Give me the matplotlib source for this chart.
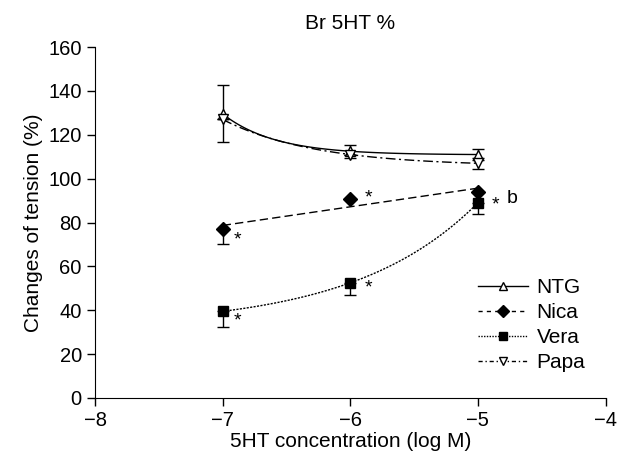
import numpy as np
import matplotlib.pyplot as plt

plt.rcParams['font.family'] = ['Liberation Sans', 'DejaVu Sans']

# data
conc = [-7, -6, -5]
ntg = [129.5, 112.5, 111]
ntg_err = [13, 3, 2.5]
nica = [77, 90.5, 94]
nica_err = [7, 0, 0]
vera = [39.5, 52.5, 89]
vera_err = [7, 5.5, 5]
papa = [127, 111, 107]
papa_err = [0, 0, 2.5]

stars_x = [-6.88, -5.86, -6.88, -5.86, -4.86]
stars_y = [72, 91, 35, 50, 88]

fig = plt.figure(figsize=(6.31, 4.66), dpi=100)
ax = fig.add_axes([0.1506, 0.146, 0.809, 0.753])

xs = np.linspace(-7, -5, 100)


def exp_curve(y):
    # one-phase exponential through the three means
    r = (y[1] - y[2]) / (y[0] - y[1])
    a = (y[0] - y[1]) / (1 - r)
    c = y[0] - a
    return c + a * r ** (xs + 7)


def line_fit(y):
    return np.polyval(np.polyfit(conc, y, 1), xs)


ax.plot(xs, exp_curve(ntg), color='black', lw=1.0, ls='-')
ax.plot(xs, line_fit(nica), color='black', lw=1.0, ls=(0, (6, 3)))
ax.plot(xs, exp_curve(vera), color='black', lw=1.0, ls=(0, (1.5, 1.0)))
ax.plot(xs, exp_curve(papa), color='black', lw=1.0, ls=(0, (7, 2.5, 1.5, 2.5)))

ax.errorbar(conc, ntg, yerr=ntg_err, fmt='^', mfc='white', mec='black', color='black',
            ms=7.5, capsize=4, elinewidth=1, zorder=3)
ax.errorbar(conc, papa, yerr=papa_err, fmt='v', mfc='white', mec='black', color='black',
            ms=7, capsize=4, elinewidth=1, zorder=3)
ax.errorbar(conc, nica, yerr=[nica_err, [0, 0, 0]], fmt='D', color='black',
            ms=7, capsize=4, elinewidth=1, zorder=3)
ax.errorbar(conc, vera, yerr=[vera_err, [0, 0, 0]], fmt='s', color='black',
            ms=6.5, capsize=4, elinewidth=1, zorder=3)

for sx, sy in zip(stars_x, stars_y):
    ax.text(sx, sy, '*', fontsize=14, ha='center', va='center')
ax.text(-4.73, 91, 'b', fontsize=14, ha='center', va='center')

# legend handles
h1, = ax.plot([], [], color='black', lw=1.0, marker='^', mfc='white', ms=6)
h2, = ax.plot([], [], color='black', lw=1.0, ls=(0, (3, 3)), marker='D', ms=6)
h3, = ax.plot([], [], color='black', lw=1.0, ls=(0, (1, 1)), marker='s', ms=6)
h4, = ax.plot([], [], color='black', lw=1.0, ls=(0, (3, 2, 1, 2)), marker='v', mfc='white', ms=6)
fig.legend([h1, h2, h3, h4], ['NTG', 'Nica', 'Vera', 'Papa'], loc='upper left',
           bbox_to_anchor=(0.728, 0.443), frameon=False, fontsize=15,
           handlelength=2.4, labelspacing=0.28, handletextpad=0.4)

ax.set_xlim(-8, -4)
ax.set_ylim(0, 160)
ax.set_xticks([-8, -7, -6, -5, -4])
ax.set_xticklabels(['\u22128', '\u22127', '\u22126', '\u22125', '\u22124'])
ax.set_yticks(range(0, 161, 20))
ax.spines['top'].set_visible(False)
ax.spines['right'].set_visible(False)
ax.tick_params(direction='out', length=6, width=1, labelsize=14.5)
ax.set_xlabel('5HT concentration (log M)', fontsize=15, labelpad=1)
ax.set_ylabel('Changes of tension (%)', fontsize=15, labelpad=4)
ax.set_title('Br 5HT %', fontsize=15, pad=13)

fig.savefig('out.png', dpi=100)
